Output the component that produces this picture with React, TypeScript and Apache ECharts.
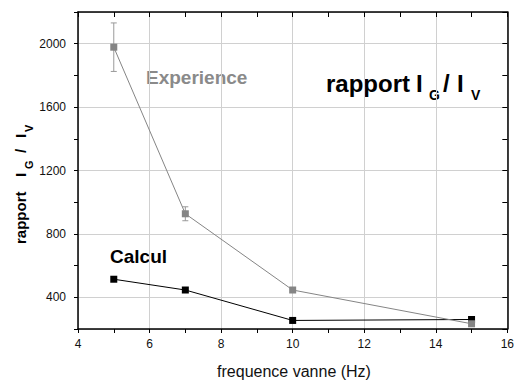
import React, { useEffect, useRef } from "react";
import * as echarts from "echarts";

const freq = [5, 7, 10, 15];
const experience = [1978, 927, 446, 233];
const experienceErr = [153, 44, 0, 0];
const calcul = [514, 446, 254, 260];

const xTicks = { min: 4, max: 16, step: 2 };
const yTicks = { min: 200, max: 2200, step: 200, labelStep: 400 };

const FONT = '"Liberation Sans", Arial, Helvetica, sans-serif';
const GRAY = "#858585";

function txt(text: string, x: number, y: number, size: number, opts: any = {}) {
  return {
    type: "text",
    x,
    y,
    silent: true,
    style: {
      text,
      fill: opts.fill || "#000",
      fontSize: size,
      fontWeight: opts.weight || "bold",
      fontFamily: FONT,
      align: opts.align || "left",
      verticalAlign: "middle",
    },
  };
}

export default function App() {
  const ref = useRef<HTMLDivElement>(null);
  useEffect(() => {
    if (!ref.current) return;
    const chart = echarts.init(ref.current, null, { renderer: "svg" });
    const errData = freq.map((x, i) => [x, experience[i] - experienceErr[i], experience[i] + experienceErr[i]]);
    const axisLine = { show: true, lineStyle: { color: "#000", width: 1.5 } };
    const option: any = {
      animation: false,
      backgroundColor: "#fff",
      grid: { left: 78, right: 7, top: 12, bottom: 52, containLabel: false },
      xAxis: [
        {
          type: "value",
          position: "bottom",
          min: xTicks.min,
          max: xTicks.max,
          interval: xTicks.step,
          axisLine,
          axisTick: { show: true, inside: false, length: 4, lineStyle: { color: "#000", width: 1 } },
          minorTick: { show: true, splitNumber: 2, length: 4, lineStyle: { color: "#000", width: 1 } },
          axisLabel: { fontSize: 12, color: "#111", margin: 9, fontFamily: FONT },
          splitLine: { show: true, lineStyle: { color: "#d0d0d0", width: 1 } },
        },
        {
          type: "value",
          position: "top",
          min: xTicks.min,
          max: xTicks.max,
          interval: xTicks.step,
          axisLine,
          axisTick: { show: true, inside: true, length: 5, lineStyle: { color: "#000", width: 1 } },
          minorTick: { show: true, splitNumber: 2, length: 5, lineStyle: { color: "#000", width: 1 } },
          axisLabel: { show: false },
          splitLine: { show: false },
        },
      ],
      yAxis: [
        {
          type: "value",
          position: "left",
          min: yTicks.min,
          max: yTicks.max,
          interval: yTicks.step,
          axisLine,
          axisTick: { show: true, inside: false, length: 4, lineStyle: { color: "#000", width: 1 } },
          axisLabel: {
            fontSize: 12,
            color: "#111",
            margin: 12,
            fontFamily: FONT,
            formatter: (v: number) => (v % yTicks.labelStep === 0 ? String(v) : ""),
          },
          splitLine: { show: false },
        },
        {
          type: "value",
          position: "right",
          min: yTicks.min,
          max: yTicks.max,
          interval: yTicks.step,
          axisLine,
          axisTick: { show: true, inside: true, length: 5, lineStyle: { color: "#000", width: 1 } },
          axisLabel: { show: false },
          splitLine: { show: false },
        },
        {
          type: "value",
          position: "left",
          min: yTicks.min,
          max: yTicks.max,
          minInterval: yTicks.labelStep,
          maxInterval: yTicks.labelStep,
          axisLine: { show: false },
          axisTick: { show: false },
          axisLabel: { show: false },
          splitLine: { show: true, lineStyle: { color: "#d0d0d0", width: 1 } },
        },
      ],
      series: [
        {
          name: "Calcul",
          type: "line",
          data: freq.map((x, i) => [x, calcul[i]]),
          symbol: "rect",
          symbolSize: 7,
          lineStyle: { color: "#000", width: 1 },
          itemStyle: { color: "#000" },
          z: 3,
        },
        {
          name: "err",
          type: "custom",
          data: errData,
          z: 2,
          renderItem: (params: any, api: any) => {
            const x = api.value(0);
            const lo = api.coord([x, api.value(1)]);
            const hi = api.coord([x, api.value(2)]);
            if (Math.abs(hi[1] - lo[1]) < 1) return { type: "group", children: [] };
            const w = 3;
            const st = { stroke: "#9a9a9a", lineWidth: 1 };
            return {
              type: "group",
              children: [
                { type: "line", shape: { x1: hi[0], y1: hi[1], x2: lo[0], y2: lo[1] }, style: st },
                { type: "line", shape: { x1: hi[0] - w, y1: hi[1], x2: hi[0] + w, y2: hi[1] }, style: st },
                { type: "line", shape: { x1: lo[0] - w, y1: lo[1], x2: lo[0] + w, y2: lo[1] }, style: st },
              ],
            };
          },
        },
        {
          name: "Experience",
          type: "line",
          data: freq.map((x, i) => [x, experience[i]]),
          symbol: "rect",
          symbolSize: 7,
          lineStyle: { color: GRAY, width: 1 },
          itemStyle: { color: GRAY },
          z: 4,
        },
      ],
      graphic: [
        txt("Experience", 146, 77, 19, { fill: "#8a8a8a" }),
        txt("Calcul", 110, 256, 19),
        txt("rapport", 326, 83, 24),
        txt("I", 416, 83, 24),
        txt("G", 429, 94.5, 14),
        txt("/", 443, 83, 24),
        txt("I", 457, 83, 24),
        txt("V", 471, 94.5, 14),
        txt("frequence vanne (Hz)", 294, 371, 16, { weight: "normal", align: "center", fill: "#111" }),
        {
          type: "group",
          x: 26,
          y: 244,
          rotation: Math.PI / 2,
          silent: true,
          children: [
            txt("rapport", 0, -5.25, 15),
            txt("I", 67, -5.25, 15),
            txt("G", 75, 2.7, 11),
            txt("/", 91, -5.25, 15),
            txt("I", 106, -5.25, 15),
            txt("V", 112, 2.7, 11),
          ],
        },
      ],
    };
    chart.setOption(option);
    return () => chart.dispose();
  }, []);
  return (
    <div
      ref={ref}
      style={{ position: "fixed", left: 0, top: 0, width: 517, height: 381, background: "#fff" }}
    />
  );
}
